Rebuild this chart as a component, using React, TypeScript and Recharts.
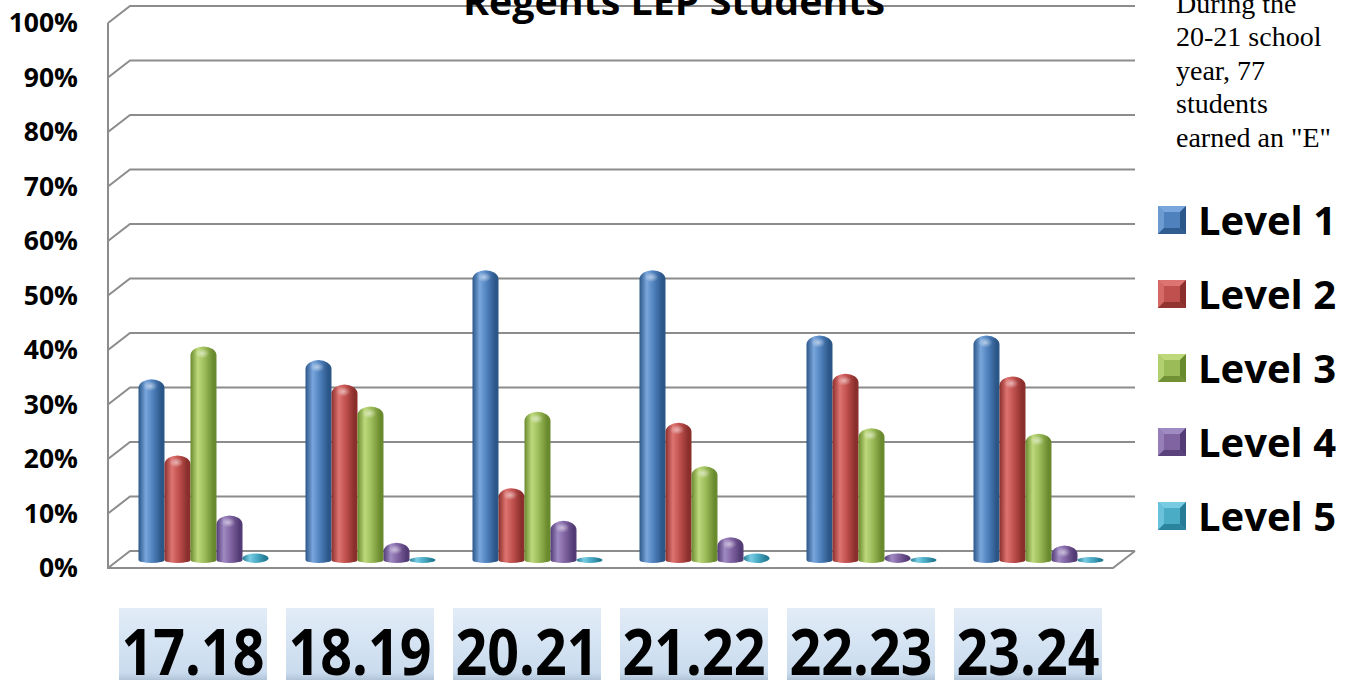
import React from "react";
import { BarChart, Bar, XAxis, YAxis, CartesianGrid } from "recharts";

// school years and the share of students at each performance level (%)
const years = ["17.18", "18.19", "20.21", "21.22", "22.23", "23.24"];
const level1 = [33, 36.5, 53, 53, 41, 41];
const level2 = [19, 32, 13, 25, 34, 33.5];
const level3 = [39, 28, 27, 17, 24, 23];
const level4 = [8, 3, 7, 4, 1, 2.5];
const level5 = [1, 0.3, 0.3, 1, 0.3, 0.3];
const yTicks = [0, 10, 20, 30, 40, 50, 60, 70, 80, 90, 100];
const noteLines = ["During the", "20-21 school", "year, 77", "students", 'earned an "E"'];

const series = [
  { key: "level1", name: "Level 1", base: "#4F81BD", light: "#79A6DC", dark: "#2B5688" },
  { key: "level2", name: "Level 2", base: "#C0504D", light: "#DE7471", dark: "#8A2F2C" },
  { key: "level3", name: "Level 3", base: "#9BBB59", light: "#BDD97C", dark: "#6A8A2E" },
  { key: "level4", name: "Level 4", base: "#8064A2", light: "#A08AC2", dark: "#533C75" },
  { key: "level5", name: "Level 5", base: "#4BACC6", light: "#78CCE2", dark: "#257C94" },
];

const rows = years.map((year, i) => ({
  year,
  level1: level1[i],
  level2: level2[i],
  level3: level3[i],
  level4: level4[i],
  level5: level5[i],
}));

const WIDTH = 1353;
const HEIGHT = 680;
const MARGIN = { top: 23, right: 231.5, bottom: 0, left: 0 };
const X_AXIS_HEIGHT = 112;
const PLOT_TOP = MARGIN.top;
const PLOT_BOTTOM = HEIGHT - MARGIN.bottom - X_AXIS_HEIGHT;

// fake 3D depth of the walls
const DEPTH_X = 22;
const DEPTH_Y = 17;
const FRONT = -11.5;
const GRID = "#8c8c8c";

function GridLine(props: any) {
  const { x1, x2, y1 } = props;
  const fx = x1 + FRONT;
  const bx = fx + DEPTH_X;
  const by = y1 - DEPTH_Y;
  const rx = x2 + FRONT + DEPTH_X + 3;
  const isFloor = Math.abs(y1 - PLOT_BOTTOM) < 0.5;
  return (
    <g key={props.key}>
      <path d={`M${fx},${y1} L${bx},${by} L${rx},${by}`} stroke={GRID} strokeWidth={2} fill="none" />
      {isFloor && (
        <path
          d={`M${fx},${PLOT_TOP} L${fx},${y1} L${rx - DEPTH_X},${y1} L${rx},${by}`}
          stroke={GRID}
          strokeWidth={2}
          fill="none"
        />
      )}
    </g>
  );
}

// rounded cylinder standing on the floor
function Cylinder(props: any) {
  const { x, y, width, height, seriesKey } = props;
  const top = y - 9;
  const bottom = y + height - 5;
  const h = bottom - top;
  const fill = `url(#cyl-${seriesKey})`;
  if (h < 12) {
    const ry = Math.max(h / 2, 3);
    return (
      <g>
        <ellipse cx={x + width / 2} cy={bottom - ry} rx={width / 2} ry={ry} fill={fill} />
      </g>
    );
  }
  const rt = 9;
  const rb = 3;
  const d = [
    `M${x},${bottom - rb}`,
    `L${x},${top + rt}`,
    `A${width / 2},${rt} 0 0 1 ${x + width},${top + rt}`,
    `L${x + width},${bottom - rb}`,
    `A${width / 2},${rb} 0 0 1 ${x},${bottom - rb}`,
    "Z",
  ].join(" ");
  return (
    <g>
      <path d={d} fill={fill} />
      <ellipse cx={x + width * 0.45} cy={top + 7} rx={width * 0.28} ry={5} fill="url(#cap-glow)" />
    </g>
  );
}

function YearTick(props: any) {
  const { x, y, payload } = props;
  const cx = x - 10;
  return (
    <g>
      <rect x={cx - 74} y={y} width={148} height={80} fill="url(#ice)" />
      <rect x={cx - 74} y={y + 64} width={148} height={16} fill="url(#ice-shade)" />
      <text
        x={cx}
        y={y + 67}
        textAnchor="middle"
        fontFamily="Open Sans"
        fontWeight={700}
        fontSize={64}
        fill="#000"
        textLength={143}
        lengthAdjust="spacingAndGlyphs"
      >
        {payload.value}
      </text>
    </g>
  );
}

function LegendSwatch({ s }: { s: (typeof series)[number] }) {
  return (
    <svg width={28} height={28} style={{ display: "block" }}>
      <rect x={0} y={0} width={28} height={28} fill={s.base} />
      <polygon points="0,0 28,0 22,6 6,6" fill={s.light} />
      <polygon points="0,0 6,6 6,22 0,28" fill={s.light} opacity={0.7} />
      <polygon points="28,0 28,28 22,22 22,6" fill={s.dark} />
      <polygon points="0,28 28,28 22,22 6,22" fill={s.dark} opacity={0.85} />
    </svg>
  );
}

export default function App() {
  return (
    <div style={{ position: "absolute", left: 0, top: 0, width: WIDTH, height: HEIGHT, background: "#fff" }}>
      <svg width={0} height={0} style={{ position: "absolute" }}>
        <defs>
          {series.map((s) => (
            <linearGradient key={s.key} id={`cyl-${s.key}`} x1="0" y1="0" x2="1" y2="0">
              <stop offset="0%" stopColor={s.dark} />
              <stop offset="28%" stopColor={s.light} />
              <stop offset="55%" stopColor={s.base} />
              <stop offset="88%" stopColor={s.dark} />
              <stop offset="100%" stopColor={s.dark} />
            </linearGradient>
          ))}
          <radialGradient id="cap-glow">
            <stop offset="0%" stopColor="#ffffff" stopOpacity={0.55} />
            <stop offset="100%" stopColor="#ffffff" stopOpacity={0} />
          </radialGradient>
          <linearGradient id="ice" x1="0" y1="0" x2="0" y2="1">
            <stop offset="0%" stopColor="#e2ecf7" />
            <stop offset="50%" stopColor="#d3e2f2" />
            <stop offset="100%" stopColor="#c4d7eb" />
          </linearGradient>
          <linearGradient id="ice-shade" x1="0" y1="0" x2="0" y2="1">
            <stop offset="0%" stopColor="#9fb3c8" stopOpacity={0} />
            <stop offset="100%" stopColor="#7e93aa" stopOpacity={0.8} />
          </linearGradient>
        </defs>
      </svg>

      <BarChart width={WIDTH} height={HEIGHT} data={rows} margin={MARGIN} barCategoryGap={19} barGap={0}>
        <CartesianGrid vertical={false} horizontal={(p: any) => <GridLine {...p} />} />
        <XAxis
          dataKey="year"
          axisLine={false}
          tickLine={false}
          tickSize={0}
          tickMargin={40}
          height={X_AXIS_HEIGHT}
          interval={0}
          tick={<YearTick />}
        />
        <YAxis
          domain={[0, 100]}
          ticks={yTicks}
          axisLine={false}
          tickLine={false}
          tickSize={0}
          tickMargin={41.5}
          width={119.5}
          tickFormatter={(v: number) => `${v}%`}
          tick={{ fontFamily: "Open Sans", fontWeight: 700, fontSize: 26.5, fill: "#000" }}
        />
        {series.map((s) => (
          <Bar
            key={s.key}
            dataKey={s.key}
            name={s.name}
            fill={s.base}
            isAnimationActive={false}
            shape={(p: any) => <Cylinder {...p} seriesKey={s.key} />}
          />
        ))}
      </BarChart>

      <svg width={WIDTH} height={HEIGHT} style={{ position: "absolute", left: 0, top: 0, pointerEvents: "none" }}>
        <text
          x={674}
          y={15}
          textAnchor="middle"
          fontFamily="Open Sans"
          fontWeight={700}
          fontSize={38}
          fill="#000"
          textLength={422}
          lengthAdjust="spacingAndGlyphs"
        >
          Regents LEP Students
        </text>
        <text fontFamily="Liberation Serif" fontSize={28} fill="#000">
          {noteLines.map((line, i) => (
            <tspan key={line} x={1176} y={12.5 + i * 33.5}>
              {line}
            </tspan>
          ))}
        </text>
      </svg>

      <div style={{ position: "absolute", left: 1158, top: 183 }}>
        {series.map((s) => (
          <div key={s.key} style={{ display: "flex", alignItems: "center", height: 74 }}>
            <LegendSwatch s={s} />
            <span
              style={{
                marginLeft: 12,
                fontFamily: "Open Sans",
                fontWeight: 700,
                fontSize: 40,
                lineHeight: "74px",
                color: "#000",
              }}
            >
              {s.name}
            </span>
          </div>
        ))}
      </div>
    </div>
  );
}
